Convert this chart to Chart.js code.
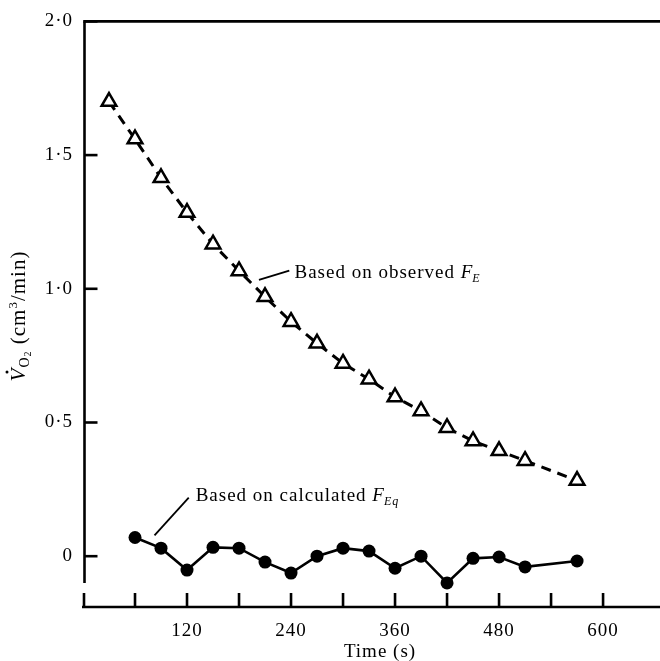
<!DOCTYPE html>
<html>
<head>
<meta charset="utf-8">
<script src="https://cdn.jsdelivr.net/npm/chart.js@4/dist/chart.umd.min.js"></script>
<style>
  html, body { margin: 0; padding: 0; background: #fff; }
  #wrap { width: 660px; height: 661px; }
</style>
</head>
<body>
<div id="wrap"><canvas id="c" width="660" height="661"></canvas></div>
<script>
// ---- data ----
const obsTimes  = [30, 60, 90, 120, 150, 180, 210, 240, 270, 300, 330, 360, 390, 420, 450, 480, 510, 570];
const obsValues = [1.70, 1.56, 1.415, 1.285, 1.167, 1.067, 0.97, 0.877, 0.796, 0.721, 0.662, 0.595, 0.543, 0.48, 0.431, 0.394, 0.357, 0.283];
const calcTimes  = [60, 90, 120, 150, 180, 210, 240, 270, 300, 330, 360, 390, 420, 450, 480, 510, 570];
const calcValues = [0.07, 0.03, -0.052, 0.033, 0.03, -0.022, -0.063, 0.0, 0.03, 0.019, -0.045, 0.0, -0.10, -0.008, -0.003, -0.04, -0.018];
const yTickValues = [0, 0.5, 1.0, 1.5, 2.0];
const xTickValues = [0, 60, 120, 180, 240, 300, 360, 420, 480, 540, 600];
const xLabelValues = [120, 240, 360, 480, 600];
const xTitle = 'Time (s)';
const xMin = 0, xMax = 653;
const yMin = -0.19, yMax = 2.0, yAxisEnd = -0.1;
const obsLabel  = { text: 'Based on observed ', sym: 'F', sub: 'E', t: 244, v: 1.041, lineFrom: [203, 1.033], lineTo: [238, 1.068] };
const calcLabel = { text: 'Based on calculated ', sym: 'F', sub: 'Eq', t: 130, v: 0.208, lineFrom: [82.5, 0.078], lineTo: [122, 0.219] };

const FONT = "'Liberation Serif', 'DejaVu Serif', serif";

const spacingPlugin = {
  id: 'spacing',
  beforeInit(chart) { chart.ctx.letterSpacing = '1px'; },
  beforeDraw(chart) { chart.ctx.letterSpacing = '1px'; }
};

const framePlugin = {
  id: 'frame',
  afterDraw(chart) {
    const { ctx, chartArea: ca, scales: { x, y } } = chart;
    ctx.save();
    ctx.strokeStyle = '#000';
    ctx.lineWidth = 2.6;
    ctx.lineCap = 'butt';
    const yTop = y.getPixelForValue(yMax);
    const yl = ca.left + 1.5;
    ctx.beginPath(); ctx.moveTo(yl - 1.3, yTop); ctx.lineTo(chart.width, yTop); ctx.stroke();
    ctx.beginPath(); ctx.moveTo(yl, yTop); ctx.lineTo(yl, y.getPixelForValue(yAxisEnd)); ctx.stroke();
    yTickValues.forEach(v => {
      const py = y.getPixelForValue(v);
      ctx.beginPath(); ctx.moveTo(yl, py); ctx.lineTo(yl + 13, py); ctx.stroke();
    });
    const xb = y.getPixelForValue(yMin);
    ctx.beginPath(); ctx.moveTo(x.getPixelForValue(xMin) - 1, xb); ctx.lineTo(chart.width, xb); ctx.stroke();
    xTickValues.forEach(v => {
      const px = x.getPixelForValue(v) + (v === 0 ? 1 : 0);
      ctx.beginPath(); ctx.moveTo(px, xb); ctx.lineTo(px, xb - 14); ctx.stroke();
    });

    ctx.fillStyle = '#000';
    ctx.letterSpacing = '1px';
    // x title
    ctx.font = '19px ' + FONT;
    ctx.textAlign = 'center';
    ctx.textBaseline = 'alphabetic';
    ctx.fillText(xTitle, 380, 657);
    ctx.textAlign = 'left';

    // y title
    ctx.translate(25, 316);
    ctx.rotate(-Math.PI / 2);
    const parts = [
      { t: 'V', f: 'italic 21px ' + FONT, dy: 0 },
      { t: 'O', f: '14px ' + FONT, dy: 4 },
      { t: '2', f: '10px ' + FONT, dy: 6 },
      { t: ' (cm', f: '21px ' + FONT, dy: 0 },
      { t: '3', f: '13px ' + FONT, dy: -8 },
      { t: '/min)', f: '21px ' + FONT, dy: 0 }
    ];
    let total = 0;
    parts.forEach(p => { ctx.font = p.f; p.w = ctx.measureText(p.t).width; total += p.w; });
    let cx = -total / 2;
    parts.forEach((p, i) => {
      ctx.font = p.f;
      ctx.fillText(p.t, cx, p.dy);
      if (i === 0) {
        ctx.beginPath(); ctx.arc(cx + p.w * 0.68, -18, 1.5, 0, Math.PI * 2); ctx.fill();
      }
      cx += p.w;
    });
    ctx.restore();
  }
};

const annotPlugin = {
  id: 'annot',
  afterDatasetsDraw(chart) {
    const { ctx, scales: { x, y } } = chart;
    ctx.save();
    ctx.fillStyle = '#000';
    ctx.strokeStyle = '#000';
    ctx.lineWidth = 1.8;
    ctx.letterSpacing = '1px';
    ctx.textBaseline = 'alphabetic';
    [obsLabel, calcLabel].forEach(a => {
      ctx.beginPath();
      ctx.moveTo(x.getPixelForValue(a.lineFrom[0]), y.getPixelForValue(a.lineFrom[1]));
      ctx.lineTo(x.getPixelForValue(a.lineTo[0]), y.getPixelForValue(a.lineTo[1]));
      ctx.stroke();
      let px = x.getPixelForValue(a.t);
      const py = y.getPixelForValue(a.v);
      ctx.font = '19px ' + FONT;
      ctx.fillText(a.text, px, py);
      px += ctx.measureText(a.text).width;
      ctx.font = 'italic 19px ' + FONT;
      ctx.fillText(a.sym, px, py);
      px += ctx.measureText(a.sym).width - 1;
      ctx.font = 'italic 12px ' + FONT;
      ctx.fillText(a.sub, px, py + 4);
    });
    ctx.restore();
  }
};

new Chart(document.getElementById('c'), {
  type: 'scatter',
  data: {
    datasets: [
      {
        label: 'observed',
        data: obsTimes.map((t, i) => ({ x: t, y: obsValues[i] })),
        showLine: true,
        borderColor: '#000',
        borderWidth: 3,
        borderDash: [10, 7],
        pointStyle: 'triangle',
        pointRadius: 8.5,
        pointBorderWidth: 2.5,
        pointBorderColor: '#000',
        pointBackgroundColor: '#fff',
        tension: 0
      },
      {
        label: 'calculated',
        data: calcTimes.map((t, i) => ({ x: t, y: calcValues[i] })),
        showLine: true,
        borderColor: '#000',
        borderWidth: 2.6,
        pointStyle: 'circle',
        pointRadius: 6.5,
        pointBorderWidth: 0,
        pointBackgroundColor: '#000',
        tension: 0
      }
    ]
  },
  options: {
    responsive: false,
    animation: false,
    devicePixelRatio: 1,
    layout: { padding: { top: 18, right: 0, bottom: 0, left: 0 } },
    plugins: { legend: { display: false }, tooltip: { enabled: false } },
    scales: {
      x: {
        type: 'linear',
        min: xMin, max: xMax,
        afterBuildTicks: s => { s.ticks = xTickValues.map(v => ({ value: v })); },
        afterFit: s => { s.height = 54; },
        grid: { display: false, drawTicks: false },
        border: { display: false },
        ticks: {
          autoSkip: false, maxRotation: 0, padding: 13,
          color: '#000',
          font: { family: FONT, size: 19 },
          callback: v => xLabelValues.includes(v) ? String(v) : ''
        },
        title: { display: false }
      },
      y: {
        type: 'linear',
        min: yMin, max: yMax,
        afterBuildTicks: s => { s.ticks = yTickValues.map(v => ({ value: v })); },
        afterFit: s => { s.width = 83; },
        grid: { display: false, drawTicks: false },
        border: { display: false },
        ticks: {
          padding: 10,
          color: '#000',
          font: { family: FONT, size: 19 },
          callback: v => v === 0 ? '0' : v.toFixed(1).replace('.', '·')
        }
      }
    }
  },
  plugins: [spacingPlugin, framePlugin, annotPlugin]
});
</script>
</body>
</html>
